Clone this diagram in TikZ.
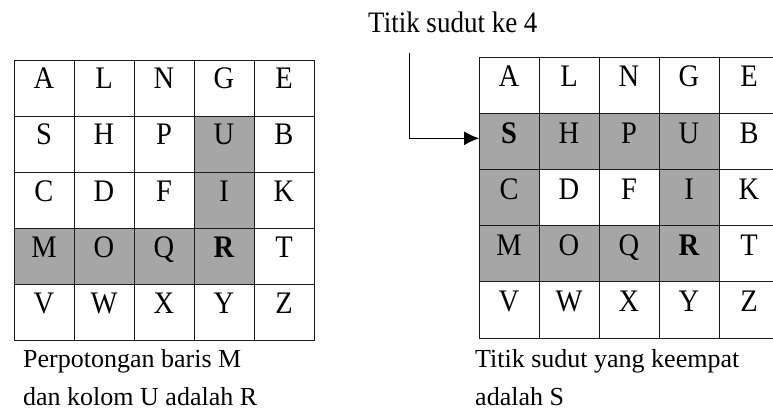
\documentclass[tikz,border=0pt]{standalone}
\usepackage{fontspec}
\setmainfont{Liberation Serif}
\usepackage{graphicx}
\usetikzlibrary{arrows.meta,calc}
\definecolor{cellgray}{RGB}{166,166,166}
\newcommand\tallish[1]{\scalebox{1}[1.1]{#1}}
\tikzset{
  cell/.style={draw=black!90, line width=0.9pt, minimum width=60pt, minimum height=56pt,
    inner sep=0pt, outer sep=0pt, anchor=north west},
  shaded/.style={fill=cellgray},
  plain/.style={},
  letter/.style={anchor=base, inner sep=0pt, font=\fontsize{28.5}{30}\selectfont},
  caption/.style={anchor=base west, inner sep=0pt, font=\fontsize{26}{30}\selectfont},
  pointer/.style={line width=0.9pt, -{Latex[length=15pt,width=14pt]}},
}
\begin{document}
\begin{tikzpicture}[x=1pt,y=-1pt]
\clip (0,0) rectangle (773,414);

% left square: row M meets column U at R
\foreach \row [count=\r] in {
  {A/plain,L/plain,N/plain,G/plain,E/plain},
  {S/plain,H/plain,P/plain,U/shaded,B/plain},
  {C/plain,D/plain,F/plain,I/shaded,K/plain},
  {M/shaded,O/shaded,Q/shaded,{\textbf{R}}/shaded,T/plain},
  {V/plain,W/plain,X/plain,Y/plain,Z/plain}}
  \foreach \ch/\st [count=\c] in \row {
    \node[cell,\st] (L\r\c) at ({14+60*(\c-1)},{60+56*(\r-1)}) {};
    \node[letter] (L\r\c-t) at ($(L\r\c.north)+(0,29)$) {\tallish{\ch}};
  }

% right square: the fourth corner is S
\foreach \row [count=\r] in {
  {A/plain,L/plain,N/plain,G/plain,E/plain},
  {{\textbf{S}}/shaded,H/shaded,P/shaded,U/shaded,B/plain},
  {C/shaded,D/plain,F/plain,I/shaded,K/plain},
  {M/shaded,O/shaded,Q/shaded,{\textbf{R}}/shaded,T/plain},
  {V/plain,W/plain,X/plain,Y/plain,Z/plain}}
  \foreach \ch/\st [count=\c] in \row {
    \node[cell,\st,minimum height=56.2pt] (R\r\c) at ({479+60*(\c-1)},{57+56.2*(\r-1)}) {};
    \node[letter] (R\r\c-t) at ($(R\r\c.north)+(0,30)$) {\tallish{\ch}};
  }

% label and pointer to the fourth corner
\node[anchor=base west, inner sep=0pt, font=\fontsize{27}{30}\selectfont]
  (title) at (368,33) {\tallish{Titik sudut ke 4}};
\coordinate (pstart) at (409,53);
\draw[pointer] (pstart) |- ([yshift=3pt]R21.west);

% captions
\node[caption] (capL1) at (23,367) {Perpotongan baris M};
\node[caption] (capL2) at (23,405) {dan kolom U adalah R};
\node[caption] (capR1) at (475,367) {Titik sudut yang keempat};
\node[caption] (capR2) at (475,405) {adalah S};
\end{tikzpicture}
\end{document}
